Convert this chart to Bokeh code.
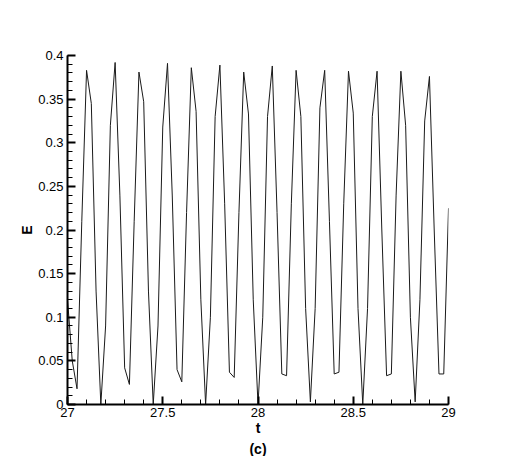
from bokeh.plotting import figure
from bokeh.models import Range1d, FixedTicker, Title
from bokeh.embed import file_html
from bokeh.resources import INLINE

# ---- data ----
t_start = 27.0
dt = 0.025
E = [0.12, 0.05, 0.018, 0.21, 0.383, 0.345, 0.13, 0.0, 0.09, 0.32,
     0.392, 0.24, 0.042, 0.023, 0.21, 0.381, 0.347, 0.13, 0.0, 0.09,
     0.318, 0.391, 0.239, 0.04, 0.026, 0.22, 0.386, 0.336, 0.12, 0.0,
     0.1, 0.33, 0.389, 0.23, 0.037, 0.031, 0.22, 0.381, 0.333, 0.12,
     0.0, 0.1, 0.33, 0.388, 0.22, 0.035, 0.033, 0.23, 0.383, 0.33,
     0.11, 0.003, 0.11, 0.34, 0.383, 0.21, 0.035, 0.037, 0.23, 0.382,
     0.334, 0.11, 0.0, 0.11, 0.33, 0.382, 0.2, 0.033, 0.035, 0.24,
     0.382, 0.32, 0.1, 0.003, 0.12, 0.325, 0.376, 0.2, 0.035, 0.035,
     0.225]
t = [t_start + dt * i for i in range(len(E))]

x_ticks = [27, 27.5, 28, 28.5, 29]
x_tick_labels = ["27", "27.5", "28", "28.5", "29"]
y_ticks = [0, 0.05, 0.1, 0.15, 0.2, 0.25, 0.3, 0.35, 0.4]
y_tick_labels = ["0", "0.05", "0.1", "0.15", "0.2", "0.25", "0.3", "0.35", "0.4"]
x_minor = [round(27 + 0.1 * k, 1) for k in range(21)]
y_minor = [round(0.01 * k, 2) for k in range(41)]
caption = "(c)"

FONT = "Liberation Sans"

p = figure(width=512, height=456, output_backend="svg", toolbar_location=None,
           x_range=Range1d(27, 29), y_range=Range1d(0, 0.4),
           min_border_left=67, min_border_right=64, min_border_top=55,
           min_border_bottom=51)
p.outline_line_color = None
p.grid.visible = False
p.background_fill_color = "white"
p.border_fill_color = "white"

p.line(t, E, line_color="#1a1a1a", line_width=1)

for ax, ticks, labels, minor in ((p.xaxis[0], x_ticks, x_tick_labels, x_minor),
                                 (p.yaxis[0], y_ticks, y_tick_labels, y_minor)):
    ax.ticker = FixedTicker(ticks=ticks, minor_ticks=minor)
    ax.major_label_overrides = {tk: lb for tk, lb in zip(ticks, labels)}
    ax.axis_line_width = 2
    ax.axis_line_color = "black"
    ax.major_tick_in = 8
    ax.major_tick_out = 0
    ax.minor_tick_in = 5
    ax.minor_tick_out = 0
    ax.major_tick_line_width = 2
    ax.minor_tick_line_width = 1
    ax.major_tick_line_color = "black"
    ax.minor_tick_line_color = "black"
    ax.major_label_text_font = FONT
    ax.major_label_text_font_size = "13px"
    ax.major_label_text_color = "black"
    ax.axis_label_text_font = FONT
    ax.axis_label_text_font_size = "14px"
    ax.axis_label_text_font_style = "bold"
    ax.axis_label_text_color = "black"

p.xaxis.axis_label = "t"
p.yaxis.axis_label = "E"
p.xaxis.major_label_standoff = 3
p.xaxis.axis_label_standoff = 0
p.yaxis.major_label_standoff = 4
p.yaxis.axis_label_standoff = 0

p.add_layout(Title(text=caption, align="center", text_font=FONT,
                   text_font_size="14px", text_font_style="bold",
                   text_color="black", standoff=0, offset=0), "below")

open("out.html", "w").write(file_html(p, INLINE))
